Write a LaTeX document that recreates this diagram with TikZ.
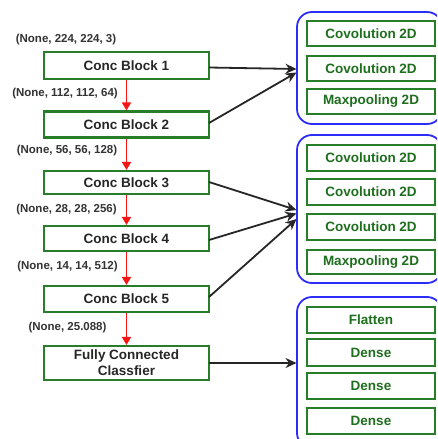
\documentclass[tikz,border=0pt]{standalone}
\usepackage{fontspec}
\setmainfont{Liberation Sans}
\usetikzlibrary{arrows.meta}
\definecolor{boxgreen}{RGB}{40,125,40}
\definecolor{textgreen}{RGB}{30,110,30}
\definecolor{groupblue}{RGB}{45,45,250}
\definecolor{flowred}{RGB}{250,20,20}
\tikzset{
  block/.style={draw=boxgreen, line width=2.1pt, fill=white, inner sep=0pt,
    minimum width=165pt, align=center,
    font=\bfseries\fontsize{13.5}{16}\selectfont, text=black!85},
  layer/.style={draw=boxgreen, line width=2.1pt, fill=white, inner sep=0pt,
    minimum width=128pt, font=\bfseries\fontsize{13.5}{16}\selectfont, text=textgreen},
  group/.style={draw=groupblue, line width=1.8pt, rounded corners=15pt,
    inner sep=0pt, minimum width=145pt},
  dims/.style={font=\bfseries\fontsize{11.5}{13}\selectfont, text=black!80, inner sep=0pt},
  flow/.style={draw=flowred, line width=1.8pt, -{Triangle[length=8pt,width=9pt]}},
  feed/.style={draw=black!85, line width=1.8pt, -{Stealth[length=11pt,width=10pt]}}
}
\begin{document}
\begin{tikzpicture}[x=1pt,y=-1pt]
\clip (0,0) rectangle (437,439);
\fill[white] (0,0) rectangle (437,439);

% grouped layers on the right
\node[group, minimum height=112pt] (g1) at (369.5,68) {};
\node[group, minimum height=148pt] (g2) at (369.5,209) {};
\node[group, minimum height=151pt] (g3) at (369.5,372.5) {};

\node[layer, minimum height=25pt] (r11) at (371,33.5) {Covolution 2D};
\node[layer, minimum height=25pt] (r12) at (371,68.5) {Covolution 2D};
\node[layer, minimum height=25pt] (r13) at (371,101.5) {Maxpooling 2D};

\node[layer, minimum height=26pt] (r21) at (371,158) {Covolution 2D};
\node[layer, minimum height=26pt] (r22) at (371,192) {Covolution 2D};
\node[layer, minimum height=26pt] (r23) at (371,227) {Covolution 2D};
\node[layer, minimum height=24pt] (r24) at (371,262) {Maxpooling 2D};

\node[layer, minimum height=26pt] (r31) at (371,320) {Flatten};
\node[layer, minimum height=27pt] (r32) at (371,352.5) {Dense};
\node[layer, minimum height=26pt] (r33) at (371,386) {Dense};
\node[layer, minimum height=26pt] (r34) at (371,421) {Dense};

% main column of blocks
\node[block, minimum height=27pt] (b1) at (126.5,65.5) {Conc Block 1};
\node[block, minimum height=26pt] (b2) at (126.5,124.5) {Conc Block 2};
\node[block, minimum height=23pt] (b3) at (126.5,182.5) {Conc Block 3};
\node[block, minimum height=25pt] (b4) at (126.5,238.5) {Conc Block 4};
\node[block, minimum height=26pt] (b5) at (126.5,299) {Conc Block 5};
\node[block, minimum height=34pt] (fc) at (126.5,363) {Fully Connected\\Classfier};

% tensor shapes
\node[dims] (s0) at (66,40) {(None, 224, 224, 3)};
\node[dims] (s1) at (65,94) {(None, 112, 112, 64)};
\node[dims] (s2) at (67,151) {(None, 56, 56, 128)};
\node[dims] (s3) at (66.5,210) {(None, 28, 28, 256)};
\node[dims] (s4) at (67.5,267) {(None, 14, 14, 512)};
\node[dims] (s5) at (67.5,328) {(None, 25.088)};

% data flow between blocks
\draw[flow] (b1.south) -- (b2.north);
\draw[flow] (b2.south) -- (b3.north);
\draw[flow] (b3.south) -- (b4.north);
\draw[flow] (b4.south) -- (b5.north);
\draw[flow] (b5.south) -- (fc.north);

% links to the layer groups
\coordinate (e1) at (209,67.5);
\coordinate (e2) at (209,123);
\coordinate (e3) at (209,182);
\coordinate (e4) at (209,240);
\coordinate (e5) at (209,297);
\coordinate (e6) at (209,363);
\coordinate (t1a) at (296.5,69);
\coordinate (t1b) at (296.5,72.5);
\coordinate (t2a) at (296.5,210);
\coordinate (t2b) at (296.5,213.5);
\coordinate (t2c) at (296.5,219);
\coordinate (t3) at (296.5,363);
\draw[feed] (e1) -- (t1a);
\draw[feed] (e2) -- (t1b);
\draw[feed] (e3) -- (t2a);
\draw[feed] (e4) -- (t2b);
\draw[feed] (e5) -- (t2c);
\draw[feed] (e6) -- (t3);
\end{tikzpicture}
\end{document}
